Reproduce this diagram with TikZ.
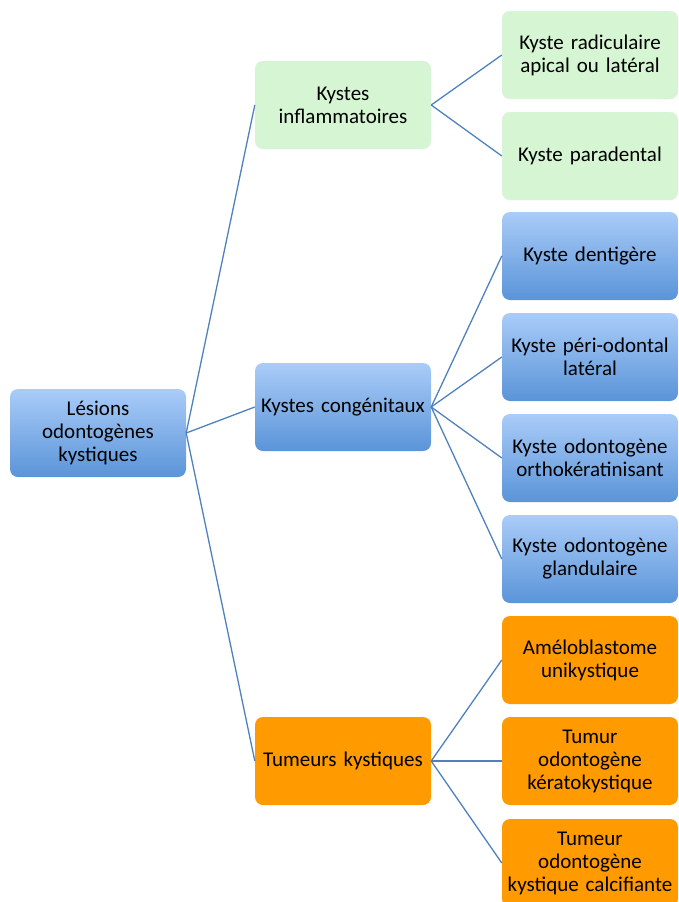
\documentclass[tikz,border=0pt]{standalone}
\usepackage{fontspec}
\setmainfont{Carlito}
\definecolor{lineblue}{HTML}{4F81BD}
\definecolor{boxgreen}{HTML}{D6F6D3}
\definecolor{bluetop}{HTML}{AACCF8}
\definecolor{bluebot}{HTML}{5A94D8}
\definecolor{boxorange}{HTML}{FF9A00}

\begin{document}
\begin{tikzpicture}[x=1pt,y=1pt,
  box/.style={rounded corners=8pt, minimum width=176pt, minimum height=88pt,
    text width=174pt, align=center, inner sep=1pt,
    font=\fontsize{21}{23}\selectfont},
  greenbox/.style={box, fill=boxgreen, draw=black!7},
  bluebox/.style={box, top color=bluetop, bottom color=bluebot},
  orangebox/.style={box, fill=boxorange},
  link/.style={draw=lineblue, line width=1.3pt}]
\useasboundingbox (0,0) rectangle (678,-902);

\node[bluebox] (lesions) at (98,-433) {Lésions\\odontogènes\\kystiques};

\node[greenbox] (inflam) at (343,-105) {Kystes\\inflammatoires};
\node[bluebox] (congen) at (343,-407) {Kystes congénitaux};
\node[orangebox] (tumeurs) at (343,-761) {Tumeurs kystiques};

\node[greenbox] (radic) at (590,-55) {Kyste radiculaire\\apical ou latéral};
\node[greenbox] (parad) at (590,-156) {Kyste paradental};

\node[bluebox] (dentig) at (590,-256) {Kyste dentigère};
\node[bluebox] (perio) at (590,-357) {Kyste péri-odontal\\latéral};
\node[bluebox] (ortho) at (590,-458) {Kyste odontogène\\orthokératinisant};
\node[bluebox] (gland) at (590,-559) {Kyste odontogène\\glandulaire};

\node[orangebox] (amelo) at (590,-660) {Améloblastome\\unikystique};
\node[orangebox] (kerato) at (590,-761) {Tumur\\odontogène\\kératokystique};
\node[orangebox] (calci) at (590,-863) {Tumeur\\odontogène\\kystique calcifiante};

\foreach \n in {inflam,congen,tumeurs}
  \draw[link] (lesions.east) -- (\n.west);
\foreach \n in {radic,parad}
  \draw[link] (inflam.east) -- (\n.west);
\foreach \n in {dentig,perio,ortho,gland}
  \draw[link] (congen.east) -- (\n.west);
\foreach \n in {amelo,kerato,calci}
  \draw[link] (tumeurs.east) -- (\n.west);
\end{tikzpicture}
\end{document}
